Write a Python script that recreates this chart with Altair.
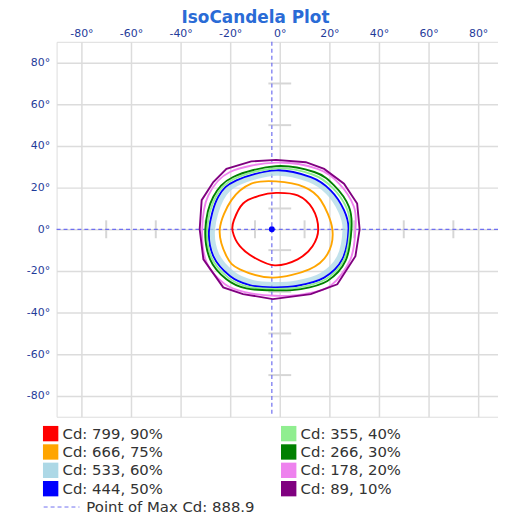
import altair as alt
import pandas as pd

# ---------------- data ----------------
x_ticks = [-80, -60, -40, -20, 0, 20, 40, 60, 80]
y_ticks = [-80, -60, -40, -20, 0, 20, 40, 60, 80]
minor_ticks = [-70, -50, -30, -10, 10, 30, 50, 70]

levels = ["Cd: 799, 90%", "Cd: 666, 75%", "Cd: 533, 60%", "Cd: 444, 50%",
          "Cd: 355, 40%", "Cd: 266, 30%", "Cd: 178, 20%", "Cd: 89, 10%"]
colors = ["#ff0000", "#ffa500", "#add8e6", "#0000ff",
          "#90ee90", "#008000", "#ee82ee", "#800080"]

c90_x = [15.5, 13.2, 7.2, -1.5, -8.5, -14.8, -18.5, -19.0, -16.1, -10.1, -2.0, 7.2, 13.2]
c90_y = [0.0, 10.0, 16.3, 17.5, 16.0, 12.4, 4.4, -1.0, -8.1, -13.7, -17.3, -14.4, -8.1]

c75_x = [21.2, 16.5, 9.9, -1.5, -11.5, -19.5, -24.2, -21.5, -16.1, -2.8, 11.9, 19.2]
c75_y = [0.0, 14.0, 20.3, 23.0, 21.9, 14.0, 0.0, -12.9, -19.2, -23.2, -19.2, -12.0]

c60_x = [26.3, 24.5, 19.4, 11.8, -1.5, -16.6, -23.5, -27.1, -25.4, -19.0, -11.4, -2.8, 6.8, 16.9, 23.9]
c60_y = [0.0, 8.8, 17.8, 23.8, 26.9, 22.3, 14.8, 0.0, -12.2, -21.2, -25.4, -26.5, -25.7, -22.0, -13.6]

c50_x = [27.7, 25.9, 20.5, 12.5, -1.5, -17.5, -24.8, -28.5, -26.8, -20.1, -12.1, -2.8, 7.2, 17.9, 25.2]
c50_y = [0.0, 9.2, 18.7, 25.0, 28.3, 23.5, 15.6, 0.0, -12.9, -22.4, -26.8, -27.9, -27.1, -23.2, -14.4]

c40_x = [28.3, 27.0, 21.2, 13.2, -1.5, -18.2, -25.8, -29.3, -27.5, -20.8, -12.8, -2.4, 7.8, 18.5, 25.8]
c40_y = [0.0, 10.0, 20.0, 26.3, 29.3, 24.3, 15.6, 0.0, -13.6, -23.2, -27.6, -28.6, -27.9, -24.0, -14.8]

c30_x = [28.9, 27.9, 21.9, 13.9, -1.5, -18.8, -26.8, -30.0, -28.1, -21.5, -13.5, -2.0, 8.5, 19.2, 26.5]
c30_y = [0.0, 10.8, 21.1, 27.5, 30.3, 25.1, 15.6, 0.0, -14.4, -24.0, -28.4, -29.3, -28.7, -24.8, -15.2]

c20_x = [30.5, 29.9, 23.9, 15.2, -1.5, -20.1, -28.8, -31.3, -29.5, -22.1, -13.5, -2.0, 9.9, 20.5, 28.5]
c20_y = [0.0, 10.8, 21.9, 29.0, 32.0, 27.5, 16.3, 0.0, -16.0, -26.4, -30.3, -31.9, -31.1, -27.1, -14.4]

c10_x = [32.2, 31.2, 25.9, 17.9, 10.5, -1.5, -11.5, -21.5, -26.8, -31.5, -32.3, -30.8, -22.8, -14.8, -2.8, 12.5, 23.2, 30.5]
c10_y = [0.0, 12.4, 21.9, 29.0, 32.2, 33.3, 32.6, 29.0, 22.7, 14.0, 0.0, -14.4, -27.9, -31.1, -33.5, -31.1, -26.4, -12.9]

contour_x = [c90_x, c75_x, c60_x, c50_x, c40_x, c30_x, c20_x, c10_x]
contour_y = [c90_y, c75_y, c60_y, c50_y, c40_y, c30_y, c20_y, c10_y]

max_x = -3.2
max_y = 0.0
max_label = "Point of Max Cd: 888.9"

# ---------------- tables ----------------
rows = []
for lev, xs, ys in zip(levels, contour_x, contour_y):
    for i, (xv, yv) in enumerate(zip(xs, ys)):
        rows.append({"level": lev, "i": i, "x": xv, "y": yv})
contours = pd.DataFrame(rows)

XDOM = [-90, 88]
YDOM = [-90, 90]
FONT = "DejaVu Sans"
LABEL_COLOR = "#1f3b9a"
GRID = "#dcdcdc"

xscale = alt.Scale(domain=XDOM, nice=False, zero=False)
yscale = alt.Scale(domain=YDOM, nice=False, zero=False)

x_axis = alt.Axis(orient="top", values=x_ticks, labelExpr="datum.value + '°'",
                  title=None, ticks=False, domain=False, grid=True,
                  gridColor=GRID, gridWidth=1.5, labelColor=LABEL_COLOR,
                  labelFont=FONT, labelFontSize=11, labelPadding=3)
y_axis = alt.Axis(orient="left", values=y_ticks, labelExpr="datum.value + '°'",
                  title=None, ticks=False, domain=False, grid=True,
                  gridColor=GRID, gridWidth=1.5, labelColor=LABEL_COLOR,
                  labelFont=FONT, labelFontSize=11, labelPadding=7)

color_scale = alt.Scale(domain=levels, range=colors)
color_legend = alt.Legend(
    title=None, orient="none", legendX=-14, legendY=387, columns=2,
    symbolType="square", symbolSize=240, symbolStrokeWidth=0, symbolOpacity=1,
    labelFont=FONT, labelFontSize=15, labelColor="#333333",
    labelOffset=4, columnPadding=118, rowPadding=2.5, padding=0,
)

# base chart with axes
base_df = pd.DataFrame({"x": [XDOM[0]], "y": [YDOM[0]]})
axes = alt.Chart(base_df).mark_point(opacity=0).encode(
    x=alt.X("x:Q", scale=xscale, axis=x_axis),
    y=alt.Y("y:Q", scale=yscale, axis=y_axis),
)

# invisible filled layer so the colour legend shows filled swatches
swatch = alt.Chart(contours).mark_square(filled=True, size=0).encode(
    x=alt.X("x:Q", scale=xscale), y=alt.Y("y:Q", scale=yscale),
    color=alt.Color("level:N", scale=color_scale, legend=color_legend))

# minor crosshair ticks
hticks = pd.DataFrame({"y": minor_ticks, "x": [-4.6] * len(minor_ticks), "x2": [4.6] * len(minor_ticks)})
vticks = pd.DataFrame({"x": minor_ticks, "y": [-4.3] * len(minor_ticks), "y2": [4.3] * len(minor_ticks)})
htick_layer = alt.Chart(hticks).mark_rule(color="#d6d6d6", strokeWidth=2).encode(
    x=alt.X("x:Q", scale=xscale), x2="x2:Q", y=alt.Y("y:Q", scale=yscale))
vtick_layer = alt.Chart(vticks).mark_rule(color="#d6d6d6", strokeWidth=2).encode(
    x=alt.X("x:Q", scale=xscale), y=alt.Y("y:Q", scale=yscale), y2="y2:Q")

# dashed crosshair through the max point
dash_scale = alt.Scale(domain=[max_label], range=[[4, 3]])
dash_legend = alt.Legend(title=None, orient="none", legendX=-14, legendY=450,
                         symbolType="stroke", symbolSize=1300,
                         symbolStrokeColor="#6f6ff0", symbolStrokeWidth=1,
                         labelFont=FONT, labelFontSize=15, labelColor="#333333",
                         labelOffset=6, labelLimit=400, padding=0)
vline = alt.Chart(pd.DataFrame({"x": [max_x], "lab": [max_label]})).mark_rule(
    color="#6f6ff0", strokeWidth=1.2).encode(
    x=alt.X("x:Q", scale=xscale),
    strokeDash=alt.StrokeDash("lab:N", scale=dash_scale, legend=dash_legend))
hline = alt.Chart(pd.DataFrame({"y": [max_y], "lab": [max_label]})).mark_rule(
    color="#6f6ff0", strokeWidth=1.2).encode(
    y=alt.Y("y:Q", scale=yscale),
    strokeDash=alt.StrokeDash("lab:N", scale=dash_scale, legend=dash_legend))

# contours
band = alt.Chart(contours).transform_filter(
    alt.datum.level == levels[2]).mark_line(
    interpolate="cardinal-closed", strokeWidth=5, opacity=0.75).encode(
    x=alt.X("x:Q", scale=xscale), y=alt.Y("y:Q", scale=yscale),
    color=alt.Color("level:N", scale=color_scale, legend=color_legend),
    order="i:Q")
inner = alt.Chart(contours).transform_filter(
    (alt.datum.level != levels[2]) & (alt.datum.level != levels[7])).mark_line(
    interpolate="cardinal-closed", strokeWidth=1.9).encode(
    x=alt.X("x:Q", scale=xscale), y=alt.Y("y:Q", scale=yscale),
    color=alt.Color("level:N", scale=color_scale, legend=color_legend),
    detail="level:N", order="i:Q")
outer = alt.Chart(contours).transform_filter(
    alt.datum.level == levels[7]).mark_line(
    interpolate="linear-closed", strokeWidth=1.9).encode(
    x=alt.X("x:Q", scale=xscale), y=alt.Y("y:Q", scale=yscale),
    color=alt.Color("level:N", scale=color_scale, legend=color_legend),
    order="i:Q")

maxpt = alt.Chart(pd.DataFrame({"x": [max_x], "y": [max_y]})).mark_circle(
    color="#0000ff", size=35, opacity=1).encode(
    x=alt.X("x:Q", scale=xscale), y=alt.Y("y:Q", scale=yscale))

chart = alt.layer(axes, swatch, htick_layer, vtick_layer, vline, hline,
                  band, inner, outer, maxpt).resolve_scale(
    color="shared", strokeDash="shared"
).properties(
    width=445, height=378,
    autosize=alt.AutoSizeParams(type="none"),
    padding={"left": 49, "top": 32, "right": 0, "bottom": 104},
    title=alt.TitleParams("IsoCandela Plot", font=FONT, fontSize=17,
                          fontWeight="bold", color="#2a6bd6",
                          anchor="middle", dx=-22, offset=1),
).configure_view(stroke="#cfcfcf", strokeWidth=2).configure(background="white")

chart.save("out.html", embed_options={"renderer": "svg", "actions": False})
